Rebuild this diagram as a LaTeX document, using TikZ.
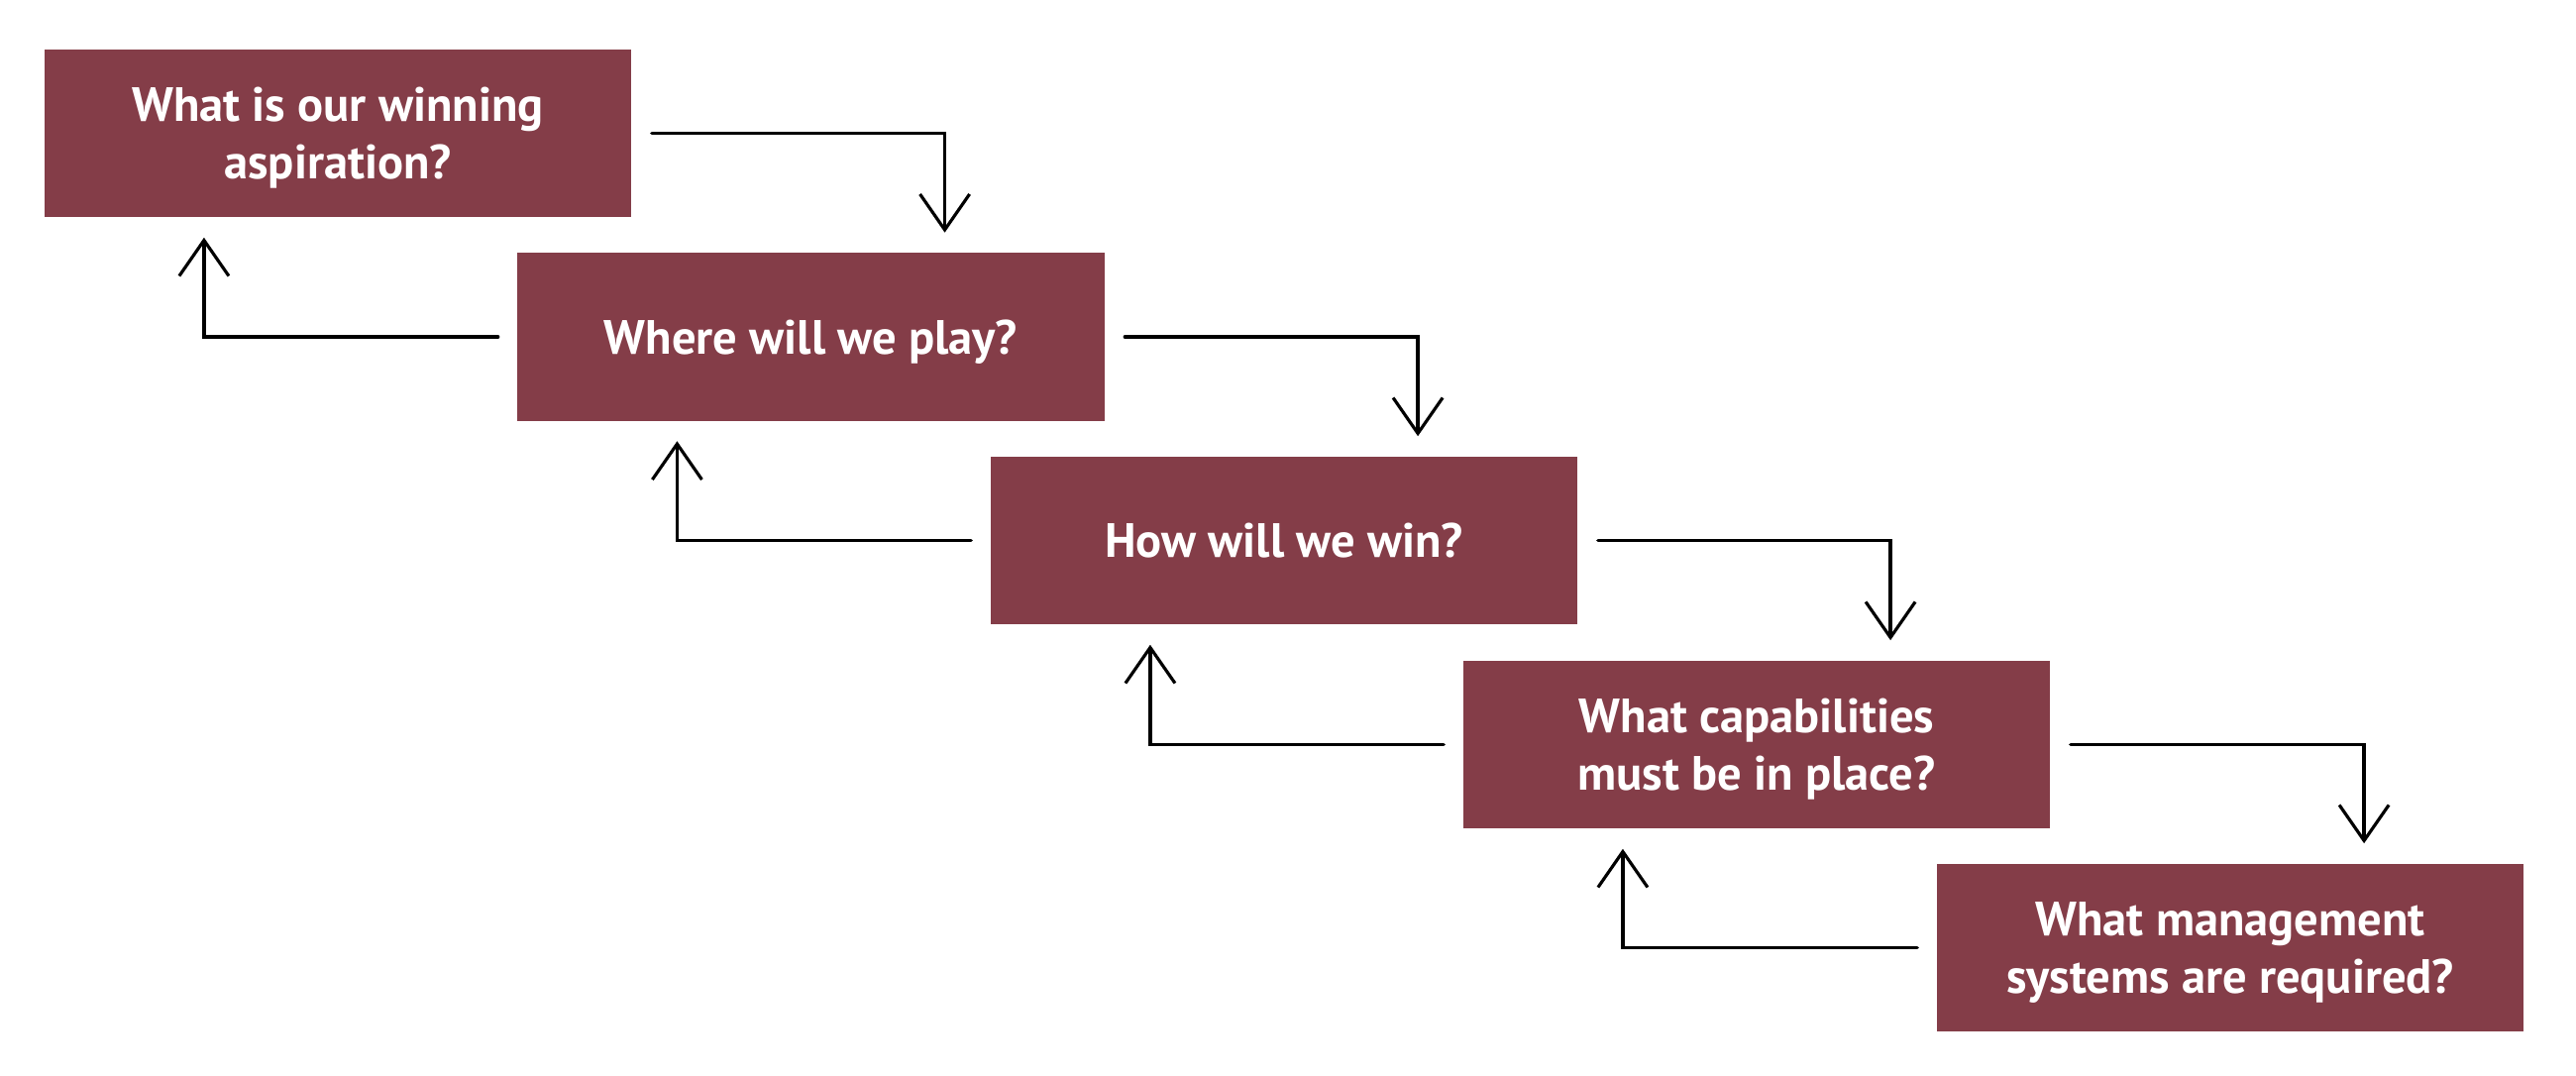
\documentclass[tikz,border=0pt]{standalone}
\usepackage{fontspec}
\setmainfont{PT Sans}
\usetikzlibrary{arrows.meta}
\definecolor{boxred}{RGB}{132,61,72}
\newcommand\boxtext[1]{\raisebox{-5.25pt}[0pt][0pt]{\begin{tabular}{@{}c@{}}#1\end{tabular}}}
\tikzset{
  qbox/.style={fill=boxred, draw=none, minimum width=5.92cm, minimum height=1.69cm,
    text=white, font=\fontsize{13.8}{16.4}\selectfont\bfseries, inner sep=0pt},
  conn/.style={draw=black, line width=1pt, line cap=round,
    -{Straight Barb[length=0.36cm, width=0.5cm, line width=0.9pt]}}
}
\begin{document}
\begin{tikzpicture}[x=0.01cm,y=-0.01cm]
\useasboundingbox (0,0) rectangle (2600,1086);
\node[qbox] (b1) at (341,134.5) {\boxtext{What is our winning\\aspiration?}};
\node[qbox] (b2) at (818.5,340) {\boxtext{Where will we play?}};
\node[qbox] (b3) at (1296,545.5) {\boxtext{How will we win?}};
\node[qbox] (b4) at (1773,751.5) {\boxtext{What capabilities\\must be in place?}};
\node[qbox] (b5) at (2251,956.5) {\boxtext{What management\\systems are required?}};
\foreach \a/\b in {b1/b2,b2/b3,b3/b4,b4/b5}{
  \draw[conn] ([xshift=0.2cm]\a.east) -| ([xshift=1.35cm,yshift=0.2cm]\b.north);
  \draw[conn] ([xshift=-0.19cm]\b.west) -| ([xshift=-1.35cm,yshift=-0.2cm]\a.south);
}
\end{tikzpicture}
\end{document}
